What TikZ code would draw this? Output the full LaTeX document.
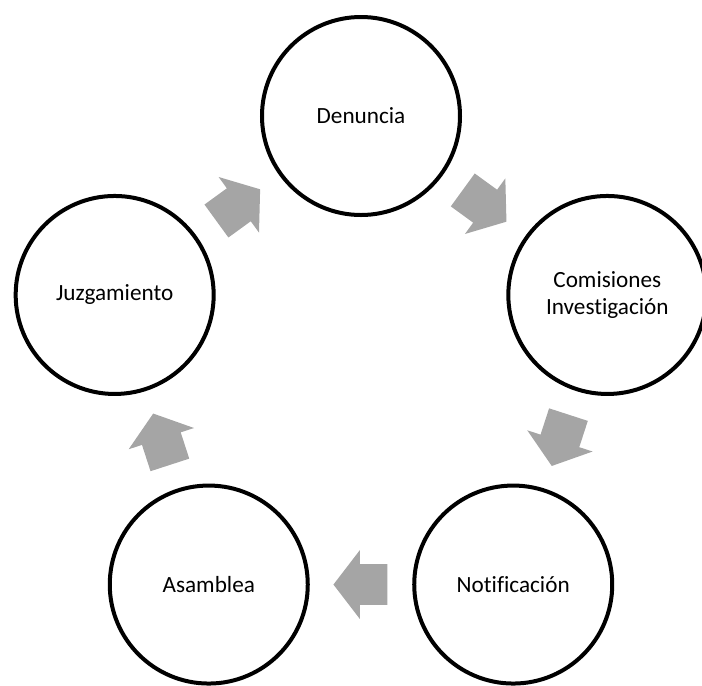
\documentclass[tikz,border=0pt]{standalone}
\usepackage{fontspec}
\setmainfont[Ligatures=CommonOff]{Carlito}
\usetikzlibrary{calc,positioning,shapes.arrows}
\definecolor{flechagris}{HTML}{A5A5A5}

\begin{document}
\begin{tikzpicture}[main/.style = {draw, circle, line width=0.08cm, minimum size=3.96cm, inner sep=0pt, align=center, font=\fontsize{13.2}{15}\selectfont},
  flecha/.style = {single arrow, fill=flechagris, minimum height=1.08cm, inner xsep=0pt, inner ysep=0.4cm, single arrow head extend=0.28cm, single arrow tip angle=105, anchor=tip}]
			\useasboundingbox (-7.22,-6.2) rectangle (6.82,7.5);
			\node[main] (den) at (90:5.18) {Denuncia};
			\node[main] (com) at (18:5.18) {Comisiones\\Investigación};
			\node[main] (not) at (-54:5.18) {Notificación};
			\node[main] (asa) at (-126:5.18) {Asamblea};
			\node[main] (juz) at (162:5.18) {Juzgamiento};
			\node[flecha, rotate=-36] (f1) at ($(den)!0.5!(com)!0.56cm!(com)$) {};
			\node[flecha, rotate=-108] (f2) at ($(com)!0.5!(not)!0.56cm!(not)$) {};
			\node[flecha, rotate=180] (f3) at ($(not)!0.5!(asa)!0.56cm!(asa)$) {};
			\node[flecha, rotate=108] (f4) at ($(asa)!0.5!(juz)!0.56cm!(juz)$) {};
			\node[flecha, rotate=36] (f5) at ($(juz)!0.5!(den)!0.56cm!(den)$) {};
		\end{tikzpicture}
\end{document}
